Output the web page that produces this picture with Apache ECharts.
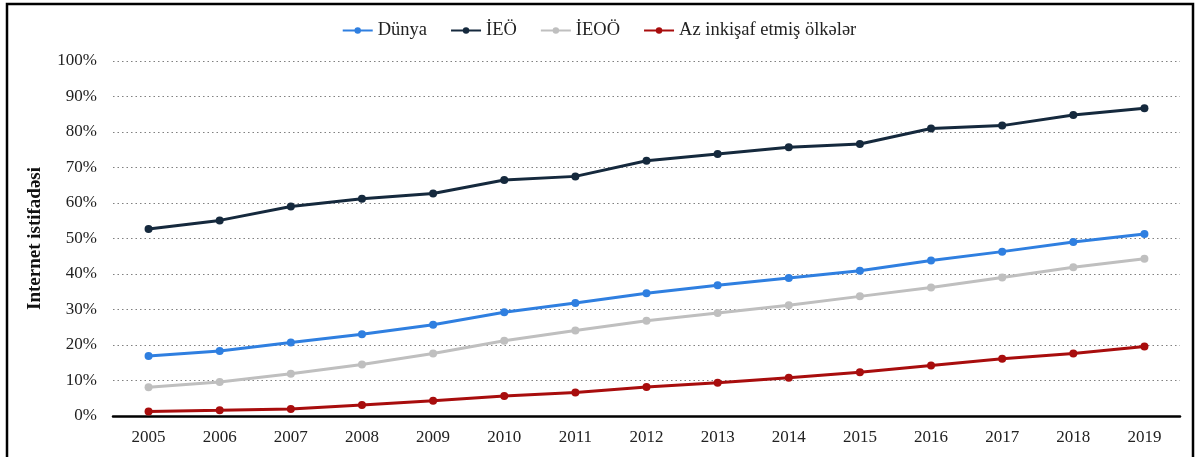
<!DOCTYPE html>
<html>
<head>
<meta charset="utf-8">
<script src="https://cdn.jsdelivr.net/npm/echarts@6/dist/echarts.min.js"></script>
<style>
html,body{margin:0;padding:0;background:#fff;}
#c{width:1198px;height:457px;}
</style>
</head>
<body>
<div id="c"></div>
<script>
const years = ['2005','2006','2007','2008','2009','2010','2011','2012','2013','2014','2015','2016','2017','2018','2019'];
const dunya = [16.9,18.3,20.7,23.0,25.7,29.2,31.8,34.6,36.8,38.9,40.9,43.8,46.3,49.0,51.3];
const ieo = [52.7,55.1,59.0,61.2,62.7,66.5,67.5,71.9,73.8,75.7,76.6,81.0,81.8,84.8,86.7];
const ieoo = [8.1,9.6,11.9,14.5,17.6,21.2,24.1,26.8,29.0,31.2,33.7,36.2,39.0,41.9,44.3];
const azInk = [1.3,1.6,2.0,3.1,4.3,5.6,6.6,8.2,9.4,10.8,12.3,14.2,16.1,17.6,19.6];
const seriesNames = ['Dünya','İEÖ','İEOÖ','Az inkişaf etmiş ölkələr'];
const colors = ['#2F7FE0','#15293D','#BFBFBF','#A80D0D'];
const font = '"Liberation Serif","Times New Roman",serif';

const chart = echarts.init(document.getElementById('c'), null, {renderer:'canvas'});
const data = [dunya, ieo, ieoo, azInk];
chart.setOption({
  animation:false,
  color: colors,
  textStyle:{fontFamily:font},
  graphic:[{type:'rect', shape:{x:7,y:4,width:1186,height:470}, style:{fill:'none',stroke:'#000',lineWidth:2.5}, silent:true}],
  legend:{
    top:16, left:'center',
    itemWidth:30, itemHeight:8, itemGap:23,
    textStyle:{fontFamily:font,fontSize:18.5,color:'#222'},
    data: seriesNames
  },
  grid:{left:113,right:18,top:61,bottom:41,containLabel:false},
  xAxis:{
    type:'category', data:years, boundaryGap:true,
    axisLine:{lineStyle:{color:'#000',width:2.5}},
    axisTick:{show:false},
    axisLabel:{fontFamily:font,fontSize:17,color:'#222',margin:13}
  },
  yAxis:{
    type:'value', min:0, max:100, interval:10,
    name:'Internet istifadəsi', nameLocation:'middle', nameGap:68, nameRotate:90,
    nameTextStyle:{fontFamily:font,fontSize:19,fontWeight:'bold',color:'#111'},
    axisLine:{show:false}, axisTick:{show:false},
    axisLabel:{fontFamily:font,fontSize:17,color:'#222',margin:16,formatter:'{value}%'},
    splitLine:{lineStyle:{color:'#808080',width:1.2,type:[1.5,3]}}
  },
  series: data.map((d,i)=>({
    name:seriesNames[i], type:'line', data:d,
    symbol:'circle', symbolSize:8,
    lineStyle:{width:3,color:colors[i]},
    itemStyle:{color:colors[i]},
    z: 3
  }))
});
</script>
</body>
</html>
